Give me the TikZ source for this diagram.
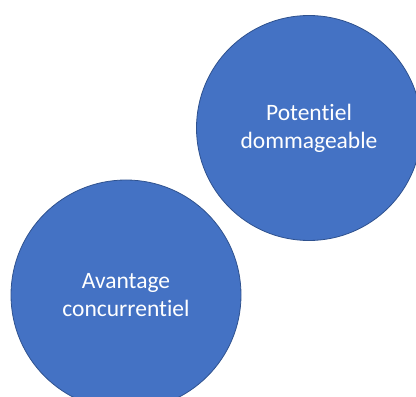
\documentclass[tikz,border=0pt]{standalone}
\usepackage{fontspec}
\setmainfont{Carlito}[Ligatures=NoCommon]
\definecolor{bubblefill}{HTML}{4472C4}
\definecolor{bubbleedge}{HTML}{2F528F}
\begin{document}
\begin{tikzpicture}[x=1pt,y=1pt,
  bubble/.style={circle, fill=bubblefill, draw=bubbleedge, line width=0.8pt,
    inner sep=0pt, text=white, align=center,
    font=\fontsize{23.5}{28}\selectfont}]
  \useasboundingbox (0,0) rectangle (416,397);
  \begin{scope}
    \clip (0,0) rectangle (416,397);
    \node[bubble, minimum size=225pt] (potentiel) at (309,269) {Potentiel\\dommageable};
    \node[bubble, minimum size=230pt] (avantage) at (126,102) {Avantage\\concurrentiel};
  \end{scope}
\end{tikzpicture}
\end{document}
